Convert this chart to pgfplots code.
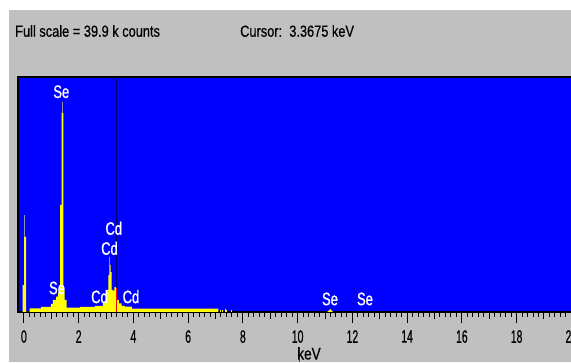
\documentclass[border=0pt]{standalone}
\usepackage{fontspec}
\setmainfont{Liberation Sans}
\newfontfamily\hdrfont[FakeStretch=0.8,FakeBold=0.6]{Liberation Sans}
\newfontfamily\tickfont[FakeStretch=0.58,FakeBold=0.5]{Liberation Sans}
\newfontfamily\lblfont[FakeStretch=0.72,FakeBold=1]{Liberation Sans}
\usepackage{pgfplots}
\pgfplotsset{compat=1.18}
\definecolor{winbg}{RGB}{192,192,192}
\definecolor{plotblue}{RGB}{0,0,255}
\definecolor{specyellow}{RGB}{255,255,0}
\definecolor{tipgray}{RGB}{150,150,150}
\definecolor{cursornavy}{RGB}{0,0,110}
\begin{document}
\begin{tikzpicture}[x=1pt,y=1pt]
\clip (0,0) rectangle (571,362);
\fill[white] (0,0) rectangle (571,362);
\fill[winbg] (9,0) rectangle (571,352);
\node[anchor=west, inner sep=0pt, font=\hdrfont\fontsize{16}{16}\selectfont] at (15,331) {Full scale = 39.9 k counts};
\node[anchor=west, inner sep=0pt, font=\hdrfont\fontsize{16}{16}\selectfont] at (240,331) {Cursor:\ \ 3.3675 keV};
\draw[gray!60!black, line width=1pt] (299,0) -- (299,15);
\node[anchor=north, inner sep=0pt, font=\hdrfont\fontsize{17}{17}\selectfont] at (309,15) {keV};
\begin{axis}[
  at={(18pt,50pt)}, anchor=south west,
  scale only axis, width=560.2pt, height=235pt,
  xmin=-0.2155, xmax=20.25, ymin=0, ymax=39.9,
  axis background/.style={fill=plotblue},
  axis line style={black, line width=1.5pt},
  xtick={0,2,...,20}, minor x tick num=9,
  ytick=\empty,
  tick pos=left, tick align=outside,
  major tick length=11pt, minor tick length=5pt,
  every tick/.style={black, line width=1pt},
  extra x ticks={1,3,...,19}, extra x tick labels={},
  extra x tick style={major tick length=7pt},
  /pgf/number format/assume math mode=true,
  xticklabel style={font=\tickfont\fontsize{18}{18}\selectfont, inner sep=0pt, anchor=north, yshift=-7pt},
]
\addplot[fill=specyellow, draw=none] coordinates {
(-0.044,0) (-0.044,4.58) (0.004,4.58) (0.004,12.79) (0.077,12.79) (0.077,0)
(0.212,0) (0.212,0.63) (0.625,0.63) (0.625,0.85) (0.990,0.85) (0.990,1.36)
(1.063,1.36) (1.063,2.04) (1.173,2.04) (1.173,2.60) (1.246,2.60) (1.246,3.23)
(1.319,3.23) (1.319,18.17) (1.381,18.17) (1.381,33.79) (1.439,33.79) (1.439,3.74)
(1.490,3.74) (1.490,2.04) (1.563,2.04) (1.563,0.76) (2.050,0.76) (2.050,0.85)
(2.597,0.85) (2.597,1.02) (2.889,1.02) (2.889,1.70) (3.025,1.70) (3.025,3.74)
(3.083,3.74) (3.083,6.28) (3.120,6.28) (3.120,7.98) (3.171,7.98) (3.171,6.79)
(3.207,6.79) (3.207,3.74) (3.266,3.74) (3.266,3.57) (3.302,3.57) (3.302,4.24)
(3.364,4.24) (3.364,3.40) (3.401,3.40) (3.401,2.04) (3.474,2.04) (3.474,1.48)
(3.573,1.48) (3.573,1.02) (3.693,1.02) (3.693,0.90) (3.949,0.90) (3.949,0.59)
(7.101,0.59) (7.101,0)
} \closedcycle;
\addplot[ycomb, specyellow, line width=1pt, mark=none] coordinates {
(7.19,0.42) (7.26,0.42) (7.35,0.5) (7.41,0.42) (7.57,0.42)};
\addplot[fill=specyellow, draw=none] coordinates {(11.08,0) (11.20,0.5) (11.29,0)} \closedcycle;
% peak tips
\addplot[tipgray, line width=1pt] coordinates {(0.022,12.79) (0.022,16.47)};
\addplot[tipgray, line width=1pt] coordinates {(1.410,33.79) (1.410,35.71)};
\addplot[tipgray, line width=1pt] coordinates {(3.145,7.98) (3.145,9.34)};
% cursor
\addplot[cursornavy, line width=0.8pt] coordinates {(3.3675,0) (3.3675,39.9)};
\addplot[red, line width=0.9pt] coordinates {(3.3675,0) (3.3675,4.07)};
% labels
\begin{scope}[every node/.style={text=white, inner sep=0pt, font=\lblfont\fontsize{18}{18}\selectfont}]
\node at (axis cs:1.366,37.40) {Se};
\node at (axis cs:1.209,4.07) {Se};
\node at (axis cs:3.284,14.21) {Cd};
\node at (axis cs:3.127,10.82) {Cd};
\node at (axis cs:2.762,2.60) {Cd};
\node at (axis cs:3.912,2.60) {Cd};
\node at (axis cs:11.182,2.21) {Se};
\node at (axis cs:12.460,2.21) {Se};
\end{scope}
\end{axis}
\end{tikzpicture}
\end{document}
